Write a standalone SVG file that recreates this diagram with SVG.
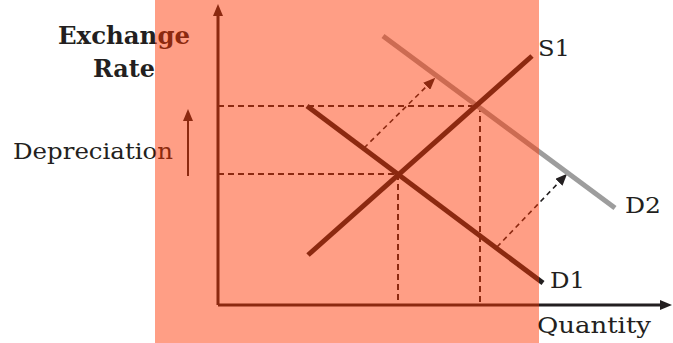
<svg xmlns="http://www.w3.org/2000/svg" width="673" height="343" viewBox="0 0 673 343">
<style>
.lbl{font-family:"DejaVu Serif","Liberation Serif",serif;fill:#231f20;font-size:23px}
.bold{font-weight:bold;font-size:25px}
.axis{stroke:#231f20;stroke-width:3;fill:none}
.curve{stroke:#231f20;stroke-width:5;fill:none}
.guide{stroke:#231f20;stroke-width:2;stroke-dasharray:6 4;fill:none}
.shift{stroke:#231f20;stroke-width:1.6;stroke-dasharray:5 4;fill:none}
</style>
<defs>
<marker id="ah" viewBox="0 0 12 10" refX="4" refY="5" markerWidth="12" markerHeight="10" orient="auto" markerUnits="userSpaceOnUse">
<path d="M0,0 L12,5 L0,10 Z" fill="#231f20"/>
</marker>
<marker id="ahs" viewBox="0 0 12 10" refX="6" refY="5" markerWidth="12" markerHeight="10" orient="auto" markerUnits="userSpaceOnUse">
<path d="M0,0 L12,5 L0,10 Z" fill="#231f20"/>
</marker>
</defs>
<rect width="673" height="343" fill="#ffffff"/>
<g id="axes">
<line class="axis" x1="218" y1="305" x2="218" y2="12" marker-end="url(#ah)"/>
<line class="axis" x1="218" y1="305" x2="664" y2="305" marker-end="url(#ah)"/>
</g>
<g id="connectors">
<line class="guide" x1="218" y1="106" x2="480" y2="106"/>
<line class="guide" x1="218" y1="174" x2="398" y2="174"/>
<line class="guide" x1="398" y1="174" x2="398" y2="305"/>
<line class="guide" x1="480" y1="106" x2="480" y2="305"/>
<line class="shift" x1="364" y1="148" x2="431" y2="82" marker-end="url(#ahs)"/>
<line class="shift" x1="497" y1="247" x2="563" y2="178" marker-end="url(#ahs)"/>
<line stroke="#231f20" stroke-width="2" x1="188" y1="176" x2="188" y2="117" marker-end="url(#ah)"/>
</g>
<g id="D2"><line x1="383" y1="36" x2="615" y2="208" stroke="#9d9d9d" stroke-width="5"/><text class="lbl" x="625" y="213" textLength="36" lengthAdjust="spacingAndGlyphs">D2</text></g>
<g id="S1"><line class="curve" x1="308" y1="255" x2="532" y2="56"/><text class="lbl" x="538" y="56" textLength="32" lengthAdjust="spacingAndGlyphs">S1</text></g>
<g id="D1"><line class="curve" x1="307" y1="106" x2="543" y2="283"/><text class="lbl" x="550" y="288" textLength="35" lengthAdjust="spacingAndGlyphs">D1</text></g>
<g id="labels">
<text class="lbl bold" x="124" y="44" text-anchor="middle" textLength="132" lengthAdjust="spacingAndGlyphs">Exchange</text>
<text class="lbl bold" x="124" y="77" text-anchor="middle" textLength="62" lengthAdjust="spacingAndGlyphs">Rate</text>
<text class="lbl" x="13" y="159" textLength="160" lengthAdjust="spacingAndGlyphs">Depreciation</text>
<text class="lbl" x="537" y="333" textLength="114" lengthAdjust="spacingAndGlyphs">Quantity</text>
</g>
<rect id="highlight" x="155" y="0" width="384" height="343" fill="#ff3400" fill-opacity="0.48"/>
</svg>
